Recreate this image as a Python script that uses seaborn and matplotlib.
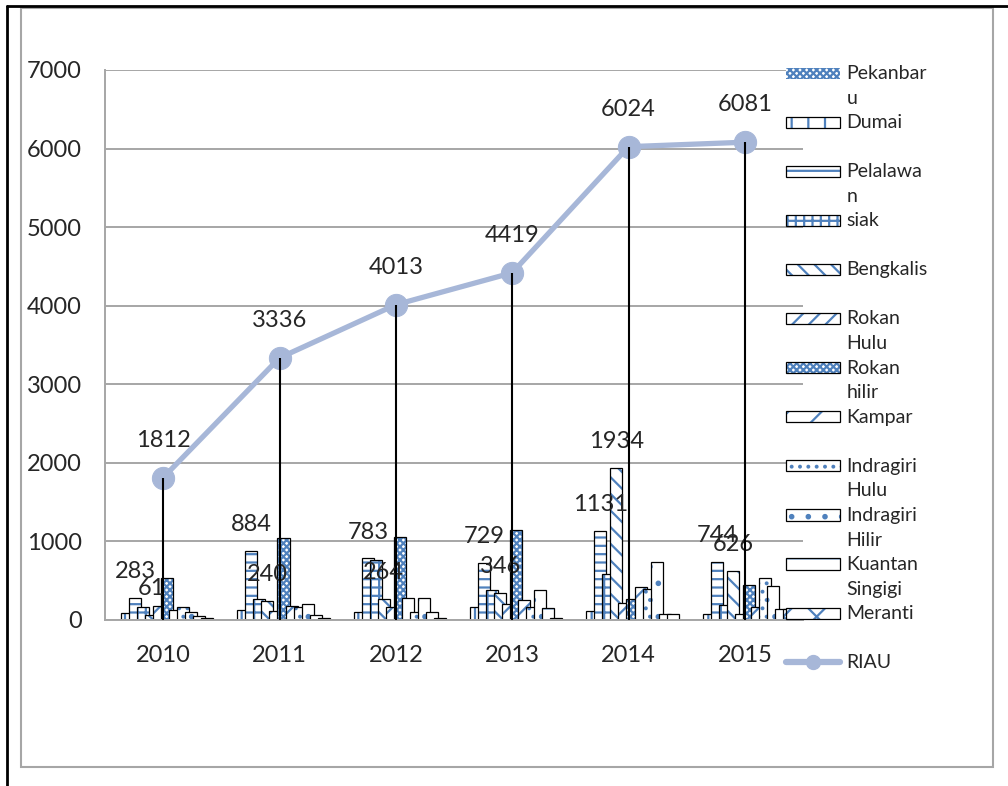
import numpy as np
import pandas as pd
import matplotlib
matplotlib.use("Agg")
import matplotlib.pyplot as plt
import matplotlib.colors as mcolors
from matplotlib.patches import Patch, Rectangle
from matplotlib.lines import Line2D
from matplotlib.legend_handler import HandlerPatch, HandlerLine2D
import seaborn as sns

# data
years = ['2010', '2011', '2012', '2013', '2014', '2015']
regions = ['Pekanbaru', 'Dumai', 'Pelalawan', 'siak', 'Bengkalis', 'Rokan Hulu',
           'Rokan hilir', 'Kampar', 'Indragiri Hulu', 'Indragiri Hilir',
           'Kuantan Singigi', 'Meranti']
legend_names = ['Pekanbar\nu', 'Dumai\n ', 'Pelalawa\nn', 'siak\n ', 'Bengkalis\n ',
                'Rokan\nHulu', 'Rokan\nhilir', 'Kampar\n ', 'Indragiri\nHulu',
                'Indragiri\nHilir', 'Kuantan\nSingigi', 'Meranti\n ']

pekanbaru = [0, 0, 0, 0, 0, 0]
dumai = [90, 125, 100, 160, 118, 80]
pelalawan = [283, 884, 783, 729, 1131, 744]
siak = [160, 270, 770, 380, 580, 190]
bengkalis = [61, 240, 264, 346, 1934, 626]
rokan_hulu = [180, 120, 170, 210, 220, 80]
rokan_hilir = [540, 1040, 1060, 1150, 267, 445]
kampar = [125, 180, 285, 255, 415, 165]
indragiri_hulu = [170, 165, 100, 165, 400, 540]
indragiri_hilir = [105, 210, 285, 380, 733, 435]
kuantan_singigi = [55, 60, 100, 150, 76, 145]
meranti = [20, 25, 20, 20, 76, 140]
riau = [1812, 3336, 4013, 4419, 6024, 6081]

series = [pekanbaru, dumai, pelalawan, siak, bengkalis, rokan_hulu, rokan_hilir,
          kampar, indragiri_hulu, indragiri_hilir, kuantan_singigi, meranti]
labelled = ['Pelalawan', 'Bengkalis']

hatches = ['xxxxx', '|', '--', '++', '\\\\', '//', 'xxxxx', '/', '..', '.', '-', 'x']
blue = '#4F81BD'
riau_col = '#A7B7D8'
grid_col = '#A6A6A6'

rows = []
for name, vals in zip(regions, series):
    for yr, v in zip(years, vals):
        rows.append({'year': yr, 'region': name, 'value': v})
df = pd.DataFrame(rows)

sns.set_style('white')
plt.rcParams['font.family'] = ['Lato', 'DejaVu Sans']
plt.rcParams['hatch.linewidth'] = 1.6

fig = plt.figure(figsize=(10.08, 7.86), dpi=100)
ax = fig.add_axes([105 / 1008, 166 / 786, 698 / 1008, 550 / 786])

step = 8 / 116.3
bar_w = 12 / 116.3

sns.barplot(data=df, x='year', y='value', hue='region', hue_order=regions,
            order=years, width=step * len(regions), dodge=True,
            palette=['white'] * len(regions), saturation=1, errorbar=None,
            edgecolor='black', linewidth=0.9, legend=False, ax=ax, zorder=2)

hatch_rgba = mcolors.to_rgba(blue)
for i, cont in enumerate(ax.containers):
    for bar in cont:
        cx = bar.get_x() + bar.get_width() / 2
        bar.set_x(cx - bar_w / 2)
        bar.set_width(bar_w)
        bar.set_hatch(hatches[i])
        bar._hatch_color = hatch_rgba
        if regions[i] == 'Pekanbaru':
            bar.set_linewidth(0)
    if regions[i] in labelled:
        for bar, v in zip(cont, series[i]):
            ax.annotate(str(v), (bar.get_x() + bar_w / 2, v), xytext=(0, 19),
                        textcoords='offset points', ha='center', va='center',
                        fontsize=17)

pos = np.arange(len(years))
ax.vlines(pos, 0, riau, color='black', lw=1.5, zorder=6)
sns.lineplot(x=pos, y=riau, color=riau_col, lw=3.8, marker='o', markersize=16,
             markeredgecolor=riau_col, ax=ax, zorder=5)
for x, v in zip(pos, riau):
    ax.annotate(str(v), (x, v), xytext=(0, 27), textcoords='offset points',
                ha='center', va='center', fontsize=17)

ax.set_xlim(-0.5, len(years) - 0.5)
ax.set_ylim(0, 7000)
ax.set_yticks(range(0, 7001, 1000))
ax.set_xticks(pos)
ax.set_xticklabels(years)
ax.set_xticks(np.arange(-0.5, len(years)), minor=True)
ax.set_xlabel('')
ax.set_ylabel('')
ax.yaxis.grid(True, color=grid_col, lw=1.4)
ax.set_axisbelow(True)
ax.tick_params(axis='x', which='major', length=0, pad=18, labelsize=17)
ax.tick_params(axis='x', which='minor', length=6, width=1.4, color=grid_col)
ax.tick_params(axis='y', length=6.5, width=1.4, color=grid_col, pad=10, labelsize=17)
for s in ['top', 'right']:
    ax.spines[s].set_visible(False)
for s in ['left', 'bottom']:
    ax.spines[s].set_color(grid_col)
    ax.spines[s].set_linewidth(1.4)


# legend keys sit next to the first line of each wrapped label
KEY_H = 8.0
KEY_TOP = -2.5


def top_patch(legend, orig_handle, xdescent, ydescent, width, height, fontsize):
    top = height - ydescent - KEY_TOP
    return Rectangle((-xdescent, top - KEY_H), width, KEY_H)


class TopLine(HandlerLine2D):
    def create_artists(self, legend, orig_handle, xdescent, ydescent, width,
                       height, fontsize, trans):
        arts = super().create_artists(legend, orig_handle, xdescent, ydescent,
                                      width, height, fontsize, trans)
        ymid = height - ydescent - KEY_TOP - KEY_H / 2
        for a in arts:
            a.set_ydata(np.full(len(a.get_ydata()), ymid))
        return arts


handles = []
for i, name in enumerate(regions):
    handles.append(Patch(facecolor='white', edgecolor='black', hatch=hatches[i],
                         lw=0 if name == 'Pekanbaru' else 0.9))
riau_handle = Line2D([], [], color=riau_col, lw=4.5, marker='o', markersize=10)
handles.append(riau_handle)
hmap = {h: HandlerPatch(patch_func=top_patch) for h in handles[:-1]}
hmap[riau_handle] = TopLine()
leg = ax.legend(handles, legend_names + ['RIAU\n '], loc='upper left',
                bbox_to_anchor=(786 / 1008, 1 - 65 / 786), bbox_transform=fig.transFigure,
                frameon=False, fontsize=14, handlelength=2.8, handleheight=2.1,
                handletextpad=0.3, labelspacing=0.38, borderaxespad=0, borderpad=0,
                handler_map=hmap)
for t in leg.get_texts():
    t.set_linespacing(1.55)
for p in leg.get_patches():
    p._hatch_color = hatch_rgba

# chart frame and page lines
fig.add_artist(Rectangle((21 / 1008, 1 - 767 / 786), 972 / 1008, 759 / 786,
                         transform=fig.transFigure, fill=False, ec=grid_col, lw=1.5))
fig.add_artist(Line2D([7 / 1008, 7 / 1008], [0, 1 - 6 / 786], transform=fig.transFigure,
                      color='black', lw=2))
fig.add_artist(Line2D([7 / 1008, 1], [1 - 6 / 786, 1 - 6 / 786], transform=fig.transFigure,
                      color='black', lw=2))

fig.savefig('out.png', dpi=100)
